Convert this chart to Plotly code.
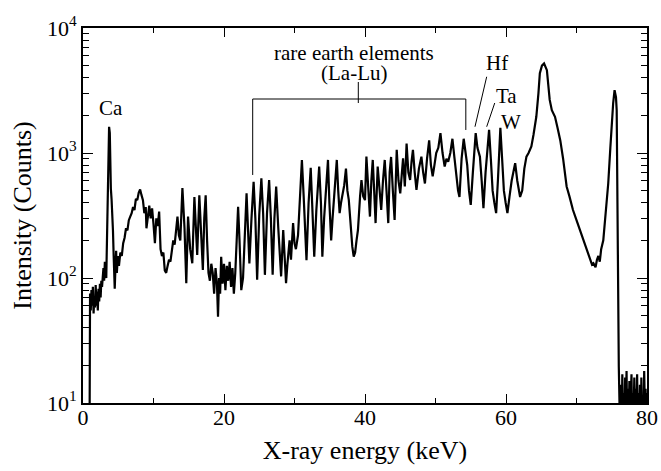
import plotly.graph_objects as go
import math

# X-ray energy (keV) and intensity (counts)
energy = [
    0.9, 1.0, 1.1, 1.2, 1.3, 1.4, 1.5, 1.6, 1.7, 1.8, 1.9, 2.0, 2.1, 2.2, 2.3, 2.4, 2.5, 2.6, 2.7, 2.8, 2.9,
    3.0, 3.1, 3.2, 3.3, 3.4, 3.5, 3.6, 3.7, 3.8, 3.85, 3.95, 4.05, 4.15, 4.25, 4.35, 4.5, 4.6, 4.7, 4.8, 4.95,
    5.1, 5.3, 5.5, 5.7, 5.9, 6.1, 6.3, 6.5, 6.7, 6.9, 7.1, 7.3, 7.5, 7.7, 7.9, 8.1, 8.3, 8.5, 8.7, 8.9,
    9.0, 9.2, 9.4, 9.6, 9.8, 10.0, 10.2, 10.4, 10.6, 10.8, 11.0, 11.2, 11.4, 11.6, 11.8, 12.0, 12.2, 12.4,
    12.6, 12.8, 13.0, 13.2, 13.4, 13.6, 13.8, 14.1, 14.4, 14.65, 14.9, 15.2, 15.5, 15.8, 16.0, 16.2, 16.5,
    16.75, 17.0, 17.2, 17.4, 17.6, 17.8, 18.0, 18.2, 18.4, 18.6, 18.8, 19.0, 19.15, 19.3, 19.45, 19.6, 19.8,
    20.0, 20.2, 20.4, 20.6, 20.8, 21.0, 21.2, 21.4, 21.6, 21.8, 22.0, 22.2, 22.45, 22.7, 23.0, 23.2, 23.4,
    23.6, 23.9, 24.2, 24.45, 24.7, 25.0, 25.3, 25.55, 25.8, 26.1, 26.4, 26.65, 26.9, 27.15, 27.4, 27.7,
    28.1, 28.4, 28.8, 29.0, 29.3, 29.5, 29.8, 30.0, 30.2, 30.5, 30.8, 31.05, 31.3, 31.7, 32.0, 32.3, 32.5,
    32.8, 33.1, 33.5, 33.75, 33.95, 34.2, 34.75, 34.95, 35.2, 35.4, 35.7, 36.0, 36.2, 36.4, 36.6, 36.8,
    37.05, 37.3, 37.5, 37.7, 37.95, 38.2, 38.4, 38.6, 38.8, 39.0, 39.3, 39.5, 39.75, 40.0, 40.2, 40.45,
    40.7, 40.9, 41.1, 41.3, 41.5, 41.8, 42.05, 42.3, 42.55, 42.8, 43.05, 43.3, 43.5, 43.7, 43.95, 44.2,
    44.5, 44.75, 45.0, 45.2, 45.4, 45.65, 45.9, 46.15, 46.4, 46.6, 46.8, 47.05, 47.3, 47.65, 48.0, 48.25,
    48.5, 48.8, 49.1, 49.35, 49.6, 49.85, 50.1, 50.4, 50.7, 51.0, 51.3, 51.55, 51.8, 52.1, 52.4, 52.7,
    52.95, 53.2, 53.4, 53.7, 54.0, 54.25, 54.5, 54.75, 55.0, 55.3, 55.7, 55.95, 56.3, 56.55, 56.8, 57.1,
    57.35, 57.6, 57.85, 58.1, 58.35, 58.6, 58.85, 59.2, 59.45, 59.7, 59.95, 60.2, 60.5, 60.8, 61.3, 61.6,
    62.0, 62.3, 62.6, 62.9, 63.2, 63.6, 63.9, 64.3, 64.6, 64.8, 65.1, 65.4, 65.8, 66.0, 66.2, 66.5, 66.95,
    67.3, 67.7, 68.1, 68.6, 69.0, 69.5, 70.0, 70.3, 70.5, 70.8, 71.0, 71.3, 71.5, 71.7, 72.0, 72.2, 72.4,
    72.7, 72.9, 73.1, 73.3, 73.5, 73.8, 74.1, 74.5, 74.8, 75.0, 75.2, 75.4, 75.6, 75.7, 75.8, 76.0, 76.2,
    76.3, 76.4, 76.5, 76.6, 76.7, 76.8, 76.9, 77.0, 77.1, 77.2, 77.3, 77.4, 77.5, 77.6, 77.7, 77.8, 77.9,
    78.0, 78.1, 78.2, 78.3, 78.4, 78.5, 78.6, 78.7, 78.8, 78.9, 79.0, 79.1, 79.2, 79.3, 79.4, 79.5, 79.6,
    79.7, 79.8, 79.9, 80.0,
]
counts = [
    2, 75, 55, 80, 60, 85, 52, 70, 58, 88, 60, 78, 55, 82, 65, 90, 70, 95, 85, 100, 120,
    95, 135, 110, 100, 200, 500, 1000, 1620, 1450, 700, 520, 430, 350, 240, 150, 82, 120, 165, 110, 150,
    125, 160, 150, 190, 210, 250, 240, 290, 310, 330, 370, 350, 430, 420, 480, 510, 460, 420, 330, 370,
    250, 330, 380, 300, 360, 270, 190, 300, 260, 340, 170, 150, 160, 115, 110, 125, 140, 135,
    170, 200, 185, 240, 310, 220, 200, 525, 250, 91, 310, 170, 131, 445, 250, 153, 458,
    250, 116, 300, 458, 200, 110, 95, 130, 110, 75, 120, 90, 49, 100, 75, 148, 90,
    130, 80, 125, 95, 135, 85, 120, 75, 110, 200, 372, 200, 80, 100, 300, 475, 250,
    131, 300, 588, 300, 97, 320, 628, 330, 106, 330, 608, 300, 106, 300, 540, 250,
    103, 242, 91, 130, 200, 140, 275, 190, 170, 220, 500, 880, 450, 139, 400, 760, 400,
    148, 350, 780, 400, 148, 300, 880, 400, 200, 300, 540, 880, 500, 330, 400, 475,
    550, 750, 500, 421, 260, 178, 148, 160, 200, 242, 450, 608, 450, 420, 935, 500,
    310, 600, 880, 500, 275, 780, 500, 350, 600, 880, 500, 275, 700, 930, 500, 291,
    1060, 600, 475, 700, 905, 540, 1190, 700, 608, 850, 1060, 700, 506, 750, 935, 700,
    570, 900, 1260, 800, 650, 800, 1000, 1100, 1440, 1000, 780, 900, 850, 1000, 1300, 900,
    650, 500, 445, 900, 1300, 1000, 800, 500, 385, 700, 1440, 1100, 935, 600, 362, 700,
    1100, 1530, 900, 500, 400, 330, 600, 1590, 900, 500, 400, 330, 450, 600, 830, 600,
    445, 500, 750, 935, 1000, 1130, 1400, 1950, 3000, 4350, 5000, 5200, 4600, 3500, 2660, 2200, 1950,
    1600, 1260, 900, 540, 450, 350, 290, 260, 242, 215, 200, 180, 170, 158, 140, 128, 131,
    122, 140, 150, 135, 170, 200, 300, 570, 1100, 1840, 2500, 3180, 2800, 2200, 230, 19.5, 5,
    14, 6, 17, 8, 12, 5, 16, 9, 18, 6, 13, 7, 15, 5, 11, 17, 6,
    12, 8, 16, 5, 13, 9, 17, 6, 12, 7, 14, 5, 16, 8, 11, 6, 18,
    9, 13, 7, 12,
]

# Annotation labels and anchors (data coordinates)
labels = ["Ca", "rare earth elements", "(La-Lu)", "Hf", "Ta", "W"]
label_x = [4.0, 38.4, 38.4, 58.7, 60.0, 60.7]
label_y = [2290, 6300, 4400, 5250, 2860, 1770]

bracket_x = [24.07, 24.07, 54.3, 54.3]
bracket_y = [667, 2704, 2704, 1528]
center_tick_x = [39.05, 39.05]
center_tick_y = [3698, 2512]
hf_line_x = [57.26, 55.6]
hf_line_y = [4074, 1622]
ta_line_x = [58.4, 57.26]
ta_line_y = [2512, 1622]

FONT = "Liberation Serif, Times New Roman, serif"

fig = go.Figure()
fig.add_trace(go.Scatter(x=energy, y=counts, mode="lines",
                         line=dict(color="black", width=2.2), showlegend=False))
for xs, ys in [(bracket_x, bracket_y), (center_tick_x, center_tick_y),
               (hf_line_x, hf_line_y), (ta_line_x, ta_line_y)]:
    fig.add_trace(go.Scatter(x=xs, y=ys, mode="lines",
                             line=dict(color="black", width=1), showlegend=False,
                             hoverinfo="skip"))

for t, x, y in zip(labels, label_x, label_y):
    fig.add_annotation(x=x, y=math.log10(y), text=t, showarrow=False,
                       font=dict(family=FONT, size=21, color="black"))

x_ticks = [0, 20, 40, 60, 80]
x_minor = [10, 30, 50, 70]
y_ticks = [10, 100, 1000, 10000]
y_ticktext = ["10<sup>1</sup>", "10<sup>2</sup>", "10<sup>3</sup>", "10<sup>4</sup>"]
y_minor = [m * d for d in (10, 100, 1000) for m in range(2, 10)]

fig.update_layout(
    width=661, height=471,
    margin=dict(l=83, r=14, t=28, b=68),
    paper_bgcolor="white", plot_bgcolor="white",
    font=dict(family=FONT, size=22, color="black"),
    xaxis=dict(range=[0, 80], tickmode="array", tickvals=x_ticks, automargin=False,
               ticks="inside", ticklen=9, tickwidth=1.3, tickcolor="black",
               showline=True, linecolor="black", linewidth=1.6, mirror="allticks",
               showgrid=False, zeroline=False, ticklabelstandoff=-6,
               minor=dict(tickmode="array", tickvals=x_minor, ticks="inside",
                          ticklen=5, tickwidth=1.3, tickcolor="black", showgrid=False),
               title=dict(text="X-ray energy (keV)", font=dict(size=26), standoff=12),
               tickfont=dict(size=22)),
    yaxis=dict(type="log", range=[1, 4], tickmode="array", tickvals=y_ticks,
               ticktext=y_ticktext, automargin=False,
               ticks="inside", ticklen=10, tickwidth=1.3, tickcolor="black",
               showline=True, linecolor="black", linewidth=1.6, mirror="allticks",
               showgrid=False, zeroline=False,
               minor=dict(tickmode="array", tickvals=y_minor, ticks="inside",
                          ticklen=6, tickwidth=1.3, tickcolor="black", showgrid=False),
               title=dict(text="Intensity (Counts)", font=dict(size=26), standoff=8),
               tickfont=dict(size=22)),
)

fig.write_html(
    "out.html",
    config={"displayModeBar": False},
    post_script="document.body.style.margin='0';document.body.style.overflow='hidden';",
)
